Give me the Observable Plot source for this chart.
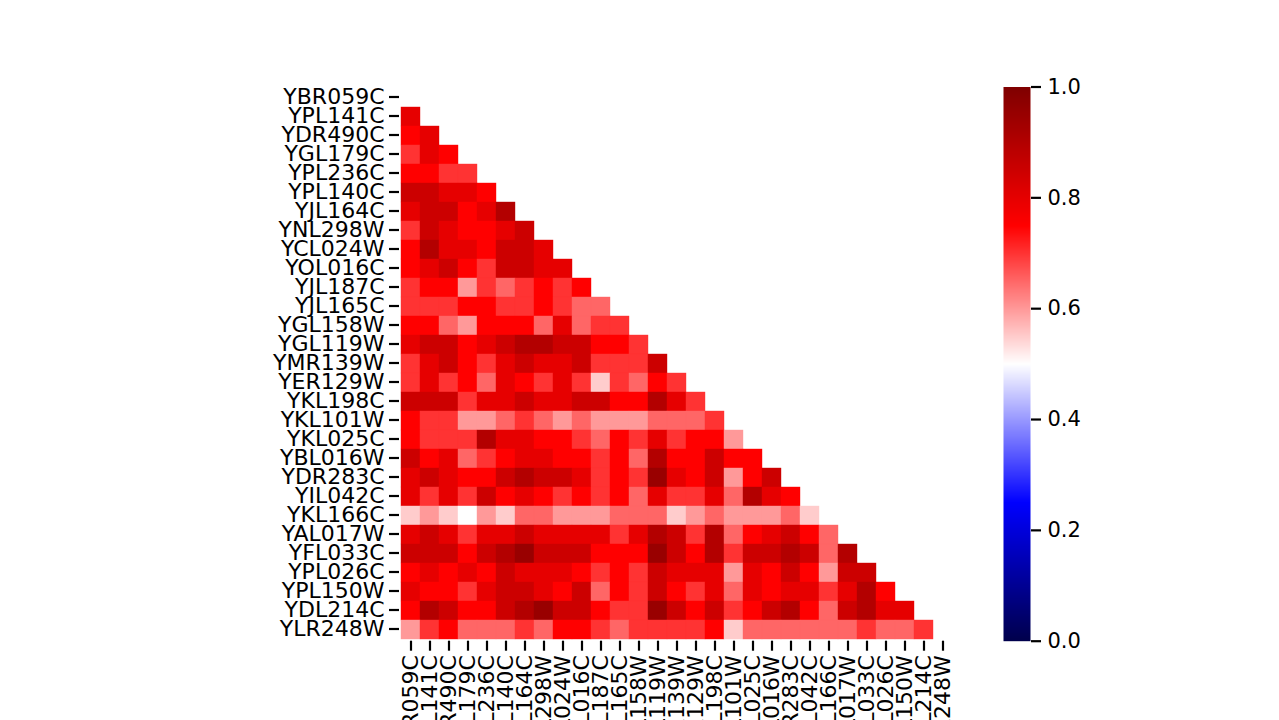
<!DOCTYPE html>
<html>
<head>
<meta charset="utf-8">
<script src="https://cdn.jsdelivr.net/npm/d3@7"></script>
<script src="https://cdn.jsdelivr.net/npm/@observablehq/plot@0.6"></script>
<style>
  html, body { margin: 0; padding: 0; background: #ffffff; }
  #wrap { position: relative; width: 1279px; height: 720px; overflow: hidden; }
  #wrap > svg, #wrap > figure { position: absolute; left: 0; top: 0; margin: 0; }
</style>
</head>
<body>
<div id="wrap"></div>
<script>
const genes = ["YBR059C","YPL141C","YDR490C","YGL179C","YPL236C","YPL140C","YJL164C","YNL298W","YCL024W","YOL016C","YJL187C","YJL165C","YGL158W","YGL119W","YMR139W","YER129W","YKL198C","YKL101W","YKL025C","YBL016W","YDR283C","YIL042C","YKL166C","YAL017W","YFL033C","YPL026C","YPL150W","YDL214C","YLR248W"];

// lower-triangle values, row i (1..28) has i values for columns 0..i-1
const row01 = [0.80];
const row02 = [0.75,0.80];
const row03 = [0.70,0.80,0.75];
const row04 = [0.75,0.75,0.70,0.70];
const row05 = [0.85,0.85,0.80,0.80,0.75];
const row06 = [0.80,0.85,0.85,0.75,0.80,0.90];
const row07 = [0.70,0.85,0.80,0.75,0.75,0.80,0.85];
const row08 = [0.75,0.90,0.80,0.80,0.75,0.85,0.85,0.80];
const row09 = [0.75,0.80,0.85,0.75,0.70,0.85,0.85,0.80,0.80];
const row10 = [0.70,0.75,0.75,0.60,0.70,0.65,0.70,0.75,0.70,0.75];
const row11 = [0.70,0.70,0.70,0.75,0.75,0.70,0.70,0.75,0.70,0.65,0.65];
const row12 = [0.75,0.75,0.65,0.60,0.75,0.75,0.75,0.65,0.80,0.65,0.70,0.70];
const row13 = [0.80,0.85,0.85,0.75,0.80,0.85,0.90,0.90,0.85,0.85,0.75,0.75,0.70];
const row14 = [0.70,0.80,0.85,0.75,0.70,0.80,0.85,0.80,0.80,0.85,0.70,0.70,0.70,0.85];
const row15 = [0.70,0.80,0.70,0.75,0.65,0.80,0.75,0.70,0.80,0.70,0.55,0.70,0.65,0.75,0.70];
const row16 = [0.85,0.85,0.85,0.70,0.80,0.80,0.85,0.80,0.80,0.85,0.85,0.75,0.75,0.90,0.80,0.70];
const row17 = [0.75,0.70,0.70,0.60,0.60,0.65,0.70,0.65,0.60,0.65,0.60,0.60,0.60,0.65,0.65,0.65,0.70];
const row18 = [0.75,0.70,0.70,0.70,0.90,0.80,0.80,0.75,0.75,0.70,0.65,0.75,0.70,0.80,0.70,0.75,0.75,0.60];
const row19 = [0.85,0.75,0.80,0.65,0.70,0.75,0.80,0.80,0.75,0.75,0.70,0.75,0.65,0.90,0.75,0.75,0.85,0.75,0.75];
const row20 = [0.80,0.85,0.80,0.75,0.75,0.85,0.90,0.85,0.85,0.80,0.70,0.75,0.70,0.95,0.80,0.75,0.85,0.60,0.75,0.85];
const row21 = [0.80,0.70,0.80,0.70,0.85,0.75,0.80,0.75,0.70,0.75,0.70,0.75,0.65,0.80,0.70,0.70,0.80,0.65,0.90,0.80,0.75];
const row22 = [0.55,0.60,0.55,0.50,0.60,0.55,0.65,0.65,0.60,0.60,0.60,0.65,0.65,0.65,0.55,0.60,0.65,0.60,0.60,0.60,0.65,0.55];
const row23 = [0.80,0.85,0.80,0.70,0.80,0.80,0.85,0.80,0.80,0.80,0.80,0.70,0.80,0.90,0.85,0.70,0.90,0.65,0.75,0.80,0.85,0.75,0.65];
const row24 = [0.85,0.85,0.85,0.75,0.85,0.90,0.95,0.85,0.85,0.85,0.75,0.75,0.75,0.95,0.85,0.75,0.90,0.70,0.85,0.85,0.90,0.85,0.65,0.90];
const row25 = [0.75,0.80,0.75,0.80,0.75,0.85,0.80,0.80,0.80,0.75,0.70,0.75,0.70,0.85,0.80,0.80,0.80,0.60,0.80,0.75,0.85,0.75,0.60,0.85,0.85];
const row26 = [0.80,0.75,0.75,0.70,0.80,0.85,0.85,0.80,0.75,0.85,0.65,0.75,0.70,0.85,0.75,0.70,0.80,0.65,0.80,0.75,0.80,0.80,0.70,0.80,0.90,0.75];
const row27 = [0.75,0.90,0.85,0.75,0.75,0.85,0.90,0.95,0.85,0.85,0.75,0.70,0.70,0.95,0.85,0.75,0.85,0.70,0.75,0.85,0.90,0.75,0.65,0.85,0.90,0.80,0.80];
const row28 = [0.60,0.70,0.75,0.65,0.65,0.65,0.70,0.65,0.75,0.75,0.70,0.65,0.70,0.70,0.70,0.70,0.75,0.55,0.65,0.65,0.65,0.65,0.65,0.65,0.70,0.65,0.65,0.70];

const colorbarTicks = [0, 0.2, 0.4, 0.6, 0.8, 1.0];

const rows = [row01,row02,row03,row04,row05,row06,row07,row08,row09,row10,row11,row12,row13,row14,row15,row16,row17,row18,row19,row20,row21,row22,row23,row24,row25,row26,row27,row28];
const cells = [];
rows.forEach((vals, i) => vals.forEach((v, j) => cells.push({row: genes[i + 1], col: genes[j], value: v})));

const seismic = {
  type: "linear",
  domain: [0, 0.25, 0.5, 0.75, 1],
  range: ["#00004c", "#0000ff", "#ffffff", "#ff0000", "#800000"],
  interpolate: "rgb"
};

const font = {fontFamily: "'DejaVu Sans', sans-serif", fontSize: "22px", color: "black", background: "transparent", overflow: "visible"};

const W = 1279, H = 720;
const plotTop = 86.5, plotBottom = 640.7;
const plotLeft = 399, plotRight = 953;

const main = Plot.plot({
  width: W, height: H,
  marginLeft: plotLeft, marginRight: W - plotRight, marginTop: plotTop, marginBottom: H - plotBottom,
  style: font,
  x: {domain: genes, padding: 0},
  y: {domain: genes, padding: 0},
  color: seismic,
  marks: [
    Plot.cell(cells, {x: "col", y: "row", fill: "value", stroke: "value", strokeWidth: 0.4, inset: 0}),
    Plot.axisY({tickSize: 10, tickPadding: 5, strokeWidth: 2.2, label: null, fontSize: 22, dy: -1}),
    Plot.axisX({tickSize: 10, tickPadding: 4, strokeWidth: 2.2, label: null, tickRotate: -90, fontSize: 22})
  ]
});

const cbar = Plot.plot({
  width: W, height: H,
  marginLeft: 1003, marginRight: W - 1030, marginTop: plotTop, marginBottom: H - plotBottom,
  style: font,
  x: {domain: [0, 1], axis: null},
  y: {domain: [0, 1]},
  color: seismic,
  marks: [
    Plot.raster({x1: 0, x2: 1, y1: 0, y2: 1, width: 1, height: 512, fill: (x, y) => y, imageRendering: "auto"}),
    Plot.axisY({anchor: "right", ticks: colorbarTicks, tickFormat: d3.format(".1f"), tickSize: 10, tickPadding: 7, strokeWidth: 2.2, label: null, fontSize: 21})
  ]
});

document.getElementById("wrap").append(main, cbar);
</script>
</body>
</html>
